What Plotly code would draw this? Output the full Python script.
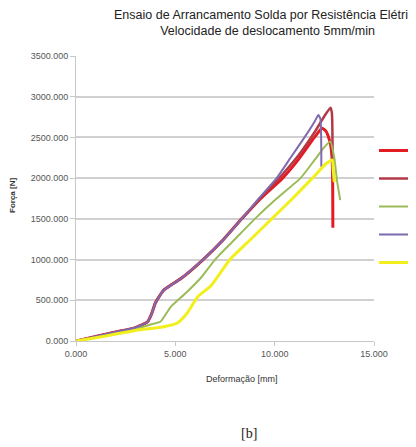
import plotly.graph_objects as go

# ---- data ----
series_names = ["CP1", "CP2", "CP3", "CP4", "CP5"]
series_colors = ["#e31b23", "#b23a48", "#9bbb59", "#7f6aae", "#f2ef1c"]

cp1_x = [0, 1, 2, 3, 3.6, 3.8, 4.0, 4.4, 4.8, 5.3, 6.4, 7.4, 8.34, 9.3, 10.4, 11.2, 12.0, 12.39, 12.6, 12.8, 12.9, 12.93]
cp1_y = [0, 55, 110, 165, 235, 330, 470, 620, 690, 770, 1000, 1240, 1500, 1750, 2000, 2230, 2500, 2613, 2570, 2430, 2200, 1390]

cp2_x = [0, 1, 2, 3, 3.6, 3.8, 4.0, 4.4, 4.8, 5.3, 6.4, 7.4, 8.34, 9.3, 10.3, 11.2, 12.0, 12.5, 12.81, 12.88, 12.92]
cp2_y = [0, 55, 110, 165, 235, 330, 470, 620, 690, 770, 1000, 1240, 1500, 1760, 2020, 2280, 2560, 2760, 2866, 2800, 2000]

cp3_x = [0, 1, 2, 3, 3.8, 4.26, 4.77, 5.53, 6.3, 7.0, 8.0, 9.0, 10.1, 11.3, 12.0, 12.5, 12.8, 13.0, 13.15, 13.3]
cp3_y = [0, 45, 95, 150, 205, 240, 420, 590, 780, 1000, 1250, 1500, 1750, 2000, 2220, 2380, 2449, 2250, 1950, 1730]

cp4_x = [0, 1, 2, 3, 3.6, 3.8, 4.0, 4.4, 4.8, 5.3, 6.4, 7.4, 8.34, 9.2, 10.1, 10.8, 11.5, 12.0, 12.2, 12.3, 12.35]
cp4_y = [0, 55, 110, 165, 235, 330, 470, 620, 690, 770, 1000, 1240, 1500, 1750, 2000, 2250, 2500, 2690, 2776, 2730, 2140]

cp5_x = [0, 1, 2, 3, 4.0, 4.42, 5.1, 5.6, 6.13, 6.8, 7.75, 8.8, 9.85, 10.9, 11.9, 12.6, 12.9, 12.95, 13.0]
cp5_y = [0, 40, 85, 130, 160, 176, 221, 344, 544, 680, 1000, 1250, 1500, 1750, 2000, 2180, 2224, 2100, 1950]

y_ticks = [0, 500, 1000, 1500, 2000, 2500, 3000, 3500]
x_ticks = [0, 5, 10, 15]

title_text = "Ensaio de Arrancamento Solda por Resistência Elétrica<br>Velocidade de deslocamento 5mm/min"
x_title = "Deformação [mm]"
y_title = "Força [N]"
caption = "[b]"

xs = [cp1_x, cp2_x, cp3_x, cp4_x, cp5_x]
ys = [cp1_y, cp2_y, cp3_y, cp4_y, cp5_y]
widths = [3, 2.5, 2, 2, 3]

sans = "Liberation Sans, Arial, sans-serif"

fig = go.Figure()
for name, col, x, y, w in zip(series_names, series_colors, xs, ys, widths):
    fig.add_trace(go.Scatter(x=x, y=y, mode="lines", name=name, legendgroup=name,
                             line=dict(color=col, width=w, shape="spline", smoothing=0.5)))

fig.update_layout(
    width=416, height=447,
    margin=dict(l=68, r=50, t=48, b=114, autoexpand=False),
    paper_bgcolor="white", plot_bgcolor="white",
    showlegend=True,
    legend=dict(x=1.0, xanchor="left", y=0.472, yanchor="middle",
                font=dict(family=sans, size=10, color="#444"),
                tracegroupgap=9, itemwidth=40, bgcolor="rgba(0,0,0,0)"),
    xaxis=dict(range=[0, 15], tickvals=x_ticks, tickformat=".3f", showgrid=False,
               showline=True, linecolor="#c8c8c8", zeroline=False,
               ticks="outside", ticklen=4, tickcolor="#c8c8c8", automargin=False,
               tickfont=dict(family=sans, size=9, color="#555")),
    yaxis=dict(range=[0, 3500], tickvals=y_ticks, tickformat=".3f", showgrid=True,
               gridcolor="#d0d0d0", gridwidth=1.5, showline=True, linecolor="#c8c8c8",
               zeroline=False, ticks="outside", ticklen=5, tickcolor="#c8c8c8", automargin=False,
               tickfont=dict(family=sans, size=9, color="#555")),
)

fig.add_annotation(text=title_text, xref="paper", yref="paper", x=0.641, y=1.115,
                   xanchor="center", yanchor="middle", showarrow=False,
                   font=dict(family=sans, size=12.5, color="#222"))
fig.add_annotation(text="<b>" + y_title + "</b>", xref="paper", yref="paper", x=-0.215, y=0.512,
                   textangle=-90, xanchor="center", yanchor="middle", showarrow=False,
                   font=dict(family=sans, size=8, color="#333"))
fig.add_annotation(text=x_title, xref="paper", yref="paper", x=0.557, y=-0.133,
                   xanchor="center", yanchor="middle", showarrow=False,
                   font=dict(family=sans, size=9, color="#333"))
fig.add_annotation(text=caption, xref="paper", yref="paper", x=0.58, y=-0.326,
                   xanchor="center", yanchor="middle", showarrow=False,
                   font=dict(family="Liberation Serif, DejaVu Serif, serif", size=14, color="#222"))

fig.write_html("out.html")
